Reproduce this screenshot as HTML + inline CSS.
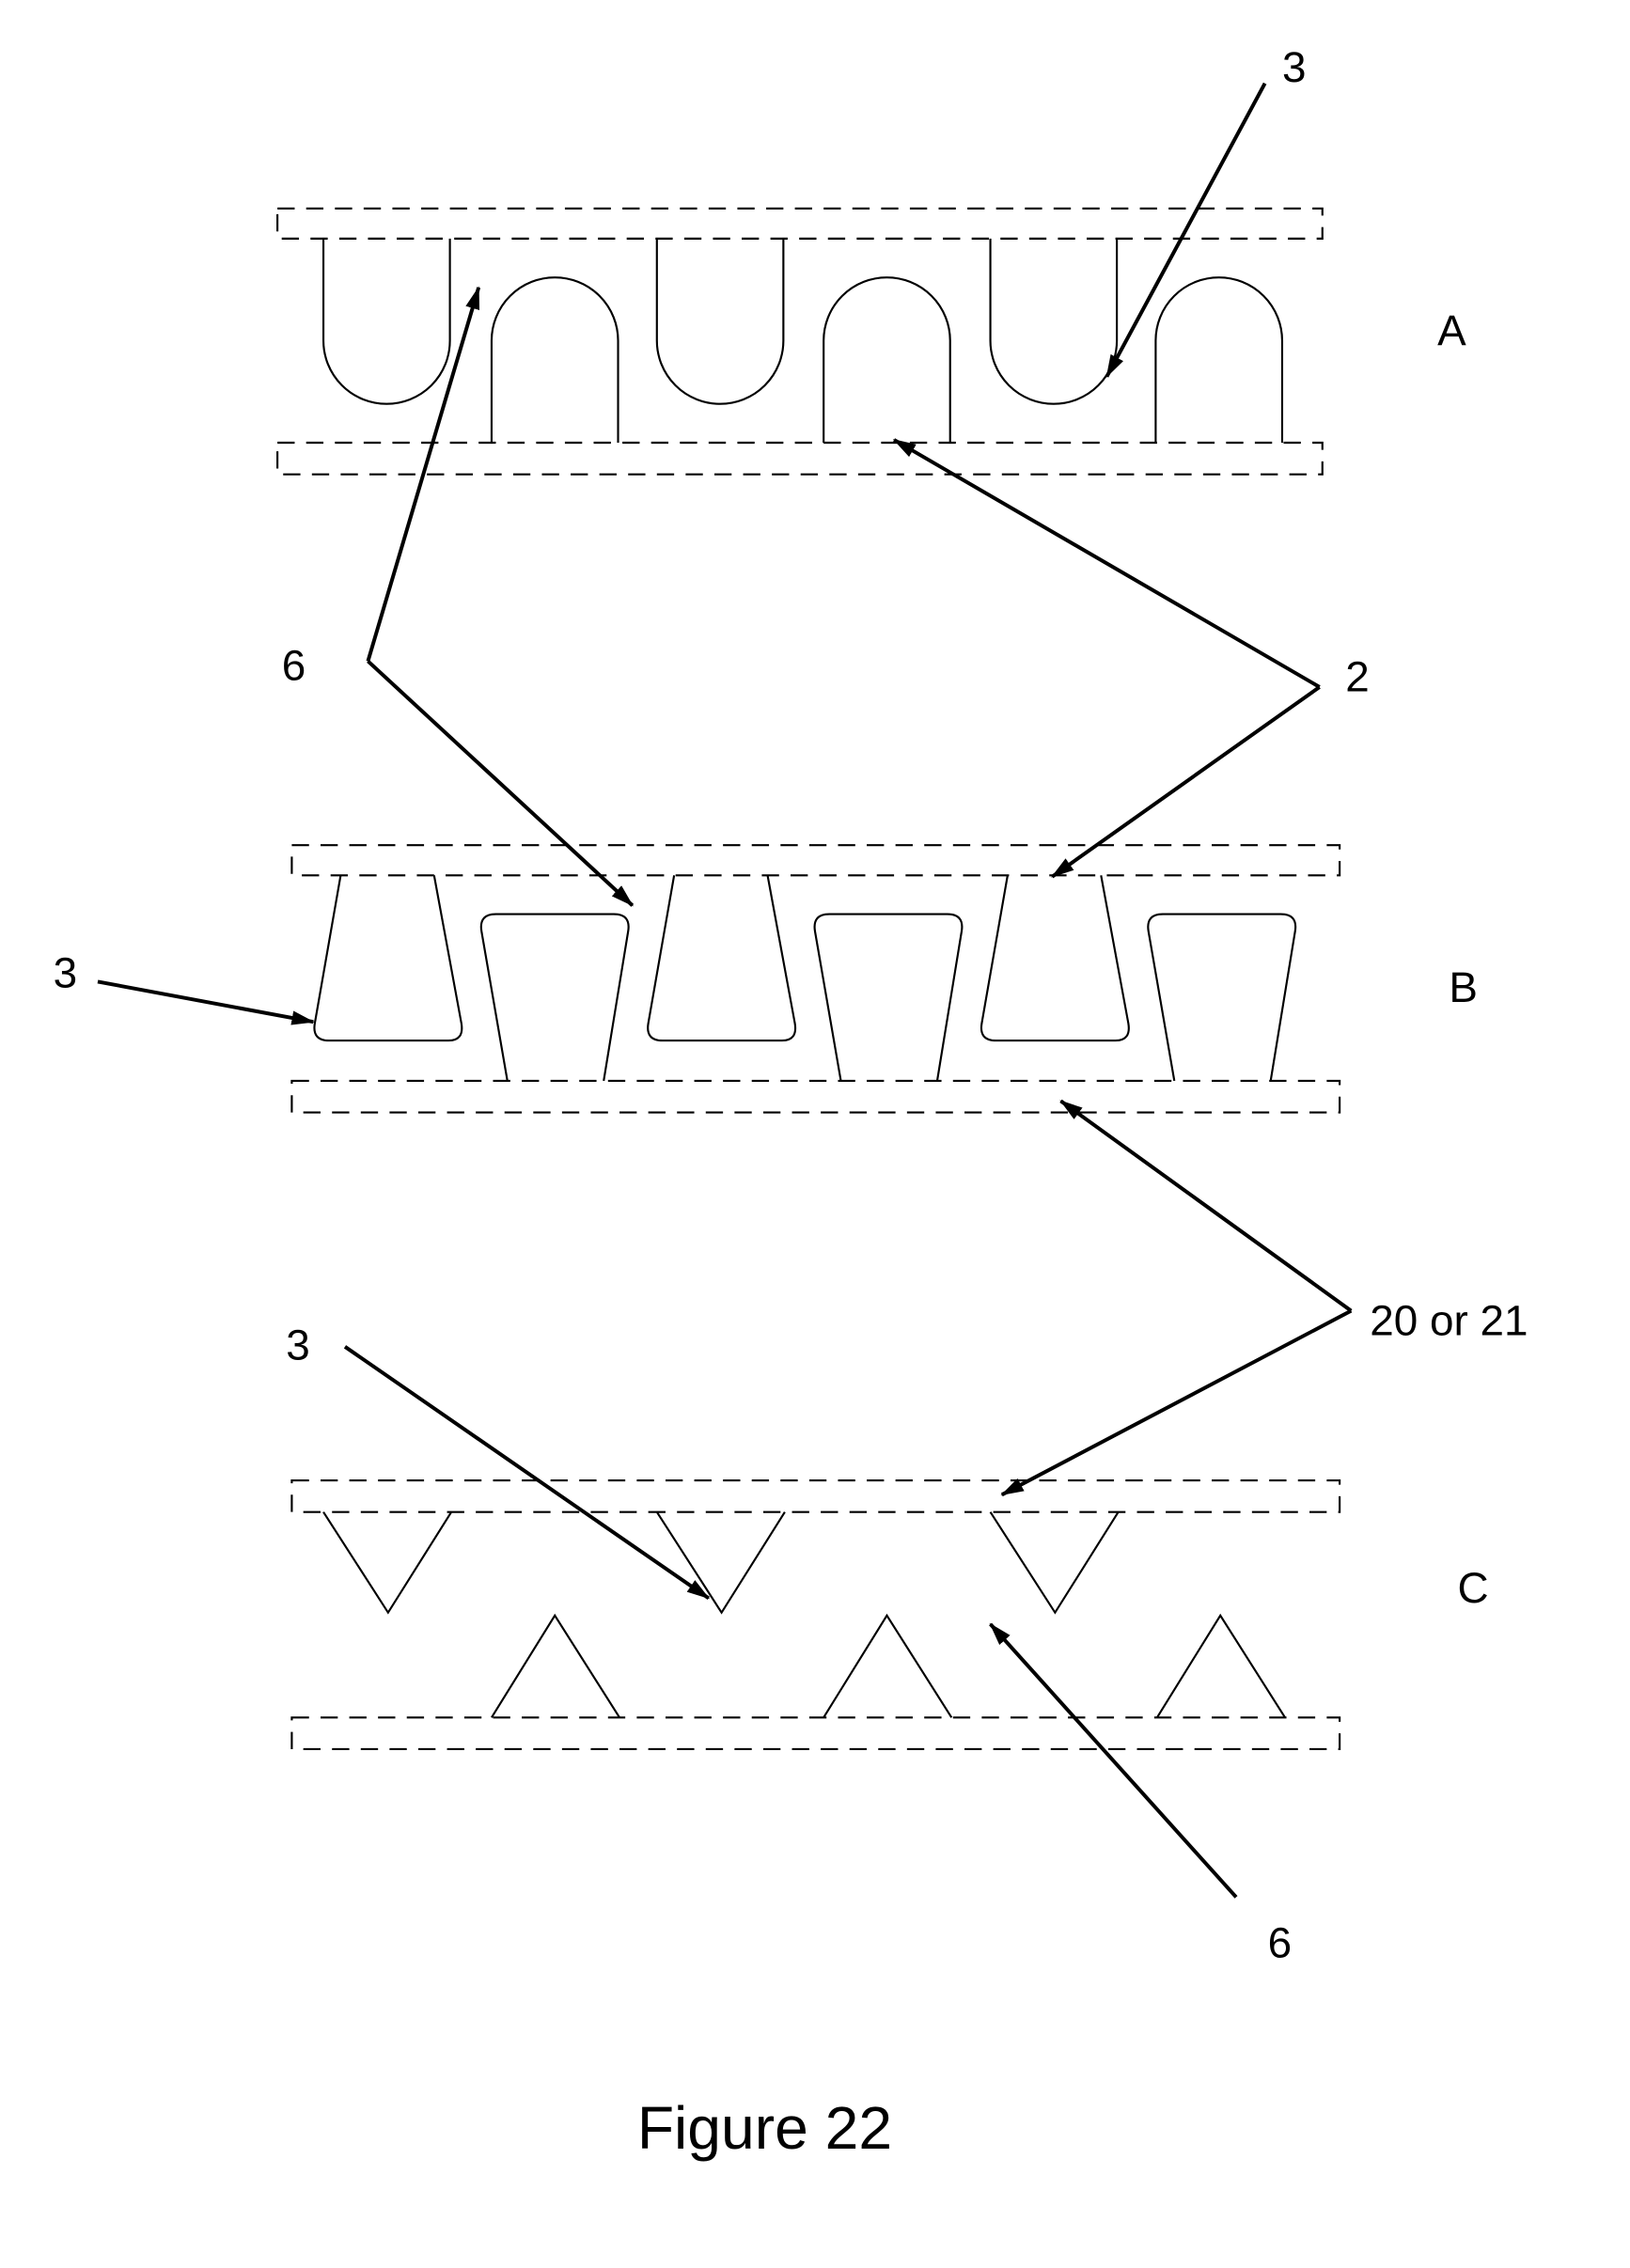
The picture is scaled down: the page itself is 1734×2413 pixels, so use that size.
<!DOCTYPE html>
<html><head><meta charset="utf-8"><style>
html,body{margin:0;padding:0;background:#fff}
svg{display:block}
text{font-family:"Liberation Sans",Arial,sans-serif;fill:#000}
</style></head><body>
<svg width="1734" height="2413" viewBox="0 0 1134 1578" xmlns="http://www.w3.org/2000/svg">
<defs>
<marker id="ah" markerWidth="16" markerHeight="10" refX="15" refY="5" orient="auto" markerUnits="userSpaceOnUse">
<path d="M0,0 L16,5 L0,10 Z" fill="#000"/></marker>
</defs>
<g fill="none" stroke="#000" stroke-width="1.4">
<g>
<rect x="193" y="145" width="727" height="21" stroke-dasharray="12,8"/>
<rect x="193" y="308" width="727" height="22" stroke-dasharray="12,8"/>
<path d="M225,166 V237 A44,44 0 0 0 313,237 V166"/>
<path d="M457,166 V237 A44,44 0 0 0 545,237 V166"/>
<path d="M689,166 V237 A44,44 0 0 0 777,237 V166"/>
<path d="M342,308 V237 A44,44 0 0 1 430,237 V308"/>
<path d="M573,308 V237 A44,44 0 0 1 661,237 V308"/>
<path d="M804,308 V237 A44,44 0 0 1 892,237 V308"/>
</g>
<g>
<rect x="203" y="588" width="729" height="21" stroke-dasharray="12,8"/>
<rect x="203" y="752" width="729" height="22" stroke-dasharray="12,8"/>
<path d="M237,609 L219,712 Q217,724 229,724 L312,724 Q323,724 321,712 L302,609"/>
<path d="M469,609 L451,712 Q449,724 461,724 L544,724 Q555,724 553,712 L534,609"/>
<path d="M701,609 L683,712 Q681,724 693,724 L776,724 Q787,724 785,712 L766,609"/>
<path d="M353,752 L335,648 Q333,636 345,636 L427,636 Q439,636 437,648 L420,752"/>
<path d="M585,752 L567,648 Q565,636 577,636 L659,636 Q671,636 669,648 L652,752"/>
<path d="M817,752 L799,648 Q797,636 809,636 L891,636 Q903,636 901,648 L884,752"/>
</g>
<g>
<rect x="203" y="1030" width="729" height="22" stroke-dasharray="12,8"/>
<rect x="203" y="1195" width="729" height="22" stroke-dasharray="12,8"/>
<path d="M225,1052 L270,1122 L314,1052"/>
<path d="M457,1052 L502,1122 L546,1052"/>
<path d="M689,1052 L734,1122 L778,1052"/>
<path d="M342,1195 L386,1124 L431,1195"/>
<path d="M573,1195 L617,1124 L662,1195"/>
<path d="M805,1195 L849,1124 L894,1195"/>
</g>
<g stroke-width="2.6">
<line x1="880" y1="58" x2="770" y2="262" marker-end="url(#ah)"/>
<line x1="256" y1="460" x2="333" y2="200" marker-end="url(#ah)"/>
<line x1="256" y1="460" x2="440" y2="630" marker-end="url(#ah)"/>
<line x1="918" y1="478" x2="622" y2="306" marker-end="url(#ah)"/>
<line x1="918" y1="478" x2="732" y2="610" marker-end="url(#ah)"/>
<line x1="68" y1="683" x2="218" y2="711" marker-end="url(#ah)"/>
<line x1="940" y1="912" x2="738" y2="766" marker-end="url(#ah)"/>
<line x1="940" y1="912" x2="697" y2="1040" marker-end="url(#ah)"/>
<line x1="240" y1="937" x2="493" y2="1112" marker-end="url(#ah)"/>
<line x1="860" y1="1320" x2="689" y2="1130" marker-end="url(#ah)"/>
</g>
</g>
<g font-size="30">
<text x="892" y="57">3</text>
<text x="1000" y="240">A</text>
<text x="196" y="473">6</text>
<text x="936" y="481">2</text>
<text x="37" y="687">3</text>
<text x="1008" y="697">B</text>
<text x="953" y="929">20 or 21</text>
<text x="199" y="946">3</text>
<text x="1014" y="1115">C</text>
<text x="882" y="1362">6</text>
</g>
<text x="532" y="1495" font-size="42" text-anchor="middle">Figure 22</text>
</svg>
</body></html>
